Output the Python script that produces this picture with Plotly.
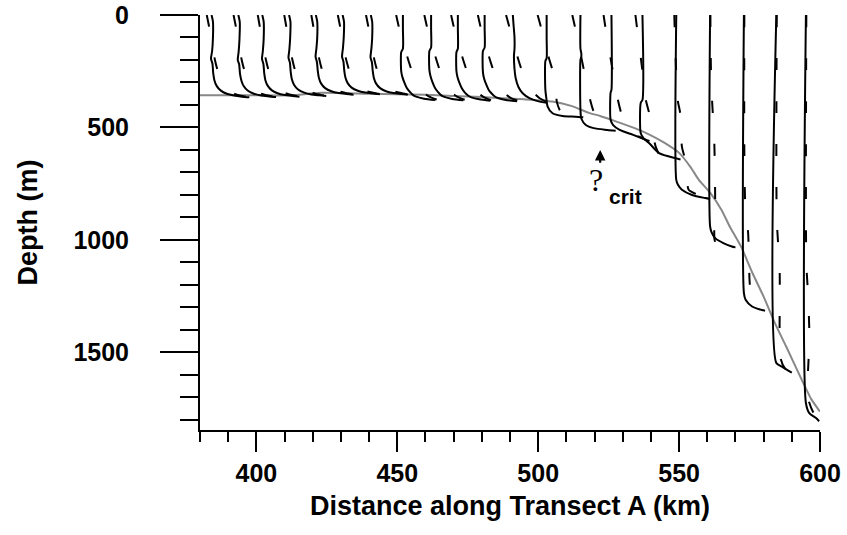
import plotly.graph_objects as go

# Station positions along the transect (km)
STATION_KM = [384.5, 394.0, 402.5, 412.0, 421.5, 431.0, 441.0, 452.0, 462.0, 471.5,
              481.0, 491.0, 503.0, 515.0, 526.0, 537.0, 549.0, 561.0, 573.0, 584.5, 595.0]

# Solid profiles: depth (m) and horizontal offset from the station (km)
SOLID_Z = [
    [0, 30, 100, 160, 195, 215, 260, 290, 315, 335, 350, 358, 363, 366],
    [0, 30, 110, 165, 200, 220, 262, 292, 316, 336, 350, 358, 362, 365],
    [0, 30, 105, 160, 195, 218, 260, 290, 314, 334, 348, 356, 360, 363],
    [0, 30, 100, 155, 190, 212, 255, 286, 311, 331, 345, 353, 357, 360],
    [0, 30, 100, 150, 185, 210, 250, 280, 305, 325, 339, 347, 351, 354],
    [0, 30, 100, 150, 185, 208, 248, 278, 303, 323, 337, 345, 349, 352],
    [0, 30, 100, 152, 188, 210, 250, 280, 305, 325, 339, 347, 351, 354],
    [0, 60, 150, 165, 250, 275, 303, 325, 341, 355, 363, 372, 378],
    [0, 60, 145, 160, 245, 272, 302, 325, 342, 356, 364, 373, 379],
    [0, 60, 150, 165, 250, 278, 306, 328, 345, 358, 366, 375, 381],
    [0, 60, 145, 160, 255, 282, 310, 332, 348, 361, 369, 378, 384],
    [0, 50, 100, 150, 180, 240, 280, 320, 348, 370, 385, 390],
    [0, 100, 192, 205, 333, 370, 407, 437, 449, 452, 455],
    [0, 150, 170, 185, 200, 420, 460, 489, 503, 511, 515],
    [0, 333, 345, 466, 490, 511, 533, 555, 560],
    [0, 378, 390, 526, 550, 570, 614, 637, 642],
    [0, 733, 755, 777, 800, 814, 818],
    [0, 940, 965, 992, 1014, 1029, 1033],
    [0, 1236, 1266, 1296, 1310, 1315],
    [0, 1547, 1562, 1584, 1590],
    [0, 1725, 1770, 1791, 1806],
]
SOLID_DX = [
    [-0.4, 0.1, 0.1, -0.2, -0.6, -0.1, 0.2, 0.6, 1.4, 2.8, 5.0, 7.6, 10.4, 13.0],
    [-0.4, 0.1, 0.0, -0.3, -0.6, -0.1, 0.2, 0.7, 1.5, 2.9, 5.1, 7.7, 10.5, 13.0],
    [-0.4, 0.1, 0.1, -0.2, -0.5, 0.0, 0.3, 0.7, 1.5, 2.9, 5.0, 7.6, 10.4, 12.8],
    [-0.4, 0.1, 0.0, -0.3, -0.6, -0.1, 0.2, 0.6, 1.4, 2.8, 5.0, 7.5, 10.3, 12.8],
    [-0.4, 0.1, 0.1, -0.2, -0.5, 0.0, 0.3, 0.7, 1.5, 2.9, 5.1, 7.7, 10.5, 13.0],
    [-0.4, 0.1, 0.0, -0.3, -0.6, -0.1, 0.2, 0.6, 1.4, 2.8, 5.0, 7.6, 10.4, 12.8],
    [-0.4, 0.1, 0.1, -0.2, -0.5, 0.0, 0.3, 0.7, 1.5, 2.9, 5.0, 7.6, 10.4, 12.8],
    [0.0, 0.0, 0.0, -0.6, -0.6, -0.2, 0.6, 1.4, 2.4, 3.5, 4.7, 7.5, 11.5],
    [0.0, 0.0, 0.0, -0.6, -0.6, -0.2, 0.6, 1.4, 2.4, 3.5, 4.7, 7.5, 11.5],
    [0.0, 0.0, 0.0, -0.5, -0.5, -0.1, 0.7, 1.5, 2.5, 3.6, 4.8, 7.6, 11.5],
    [0.0, 0.0, 0.0, -0.6, -0.6, -0.2, 0.6, 1.4, 2.4, 3.5, 4.7, 7.5, 11.5],
    [0.0, 0.3, 0.6, 0.6, 0.4, 0.6, 1.0, 2.0, 3.5, 5.9, 9.5, 12.0],
    [0.0, 0.0, 0.0, -0.45, -0.45, -0.1, 0.35, 2.1, 5.7, 10.3, 13.0],
    [0.0, 0.0, 0.3, 0.3, 0.0, 0.0, 0.3, 1.9, 4.7, 9.5, 12.5],
    [0.0, 0.0, -0.3, -0.3, 0.6, 2.9, 7.7, 12.4, 13.5],
    [0.0, 0.0, -0.6, -0.6, 0.5, 2.4, 5.9, 11.8, 13.5],
    [0.0, 0.0, 0.6, 2.0, 5.6, 10.3, 12.0],
    [0.0, 0.0, 0.5, 1.8, 4.7, 7.7, 9.0],
    [0.0, 0.0, 0.6, 2.9, 5.9, 7.5],
    [0.0, 0.0, 1.8, 4.7, 5.5],
    [0.0, 0.0, 1.2, 3.5, 4.7],
]

# Dashed profiles: depth (m) and horizontal offset from the station (km)
DASH_Z = [
    [0, 50, 100, 150, 200, 240, 280, 310, 335, 352, 361, 366],
    [0, 50, 100, 150, 200, 240, 280, 310, 335, 351, 360, 365],
    [0, 50, 100, 150, 200, 240, 280, 308, 333, 349, 358, 363],
    [0, 50, 100, 150, 200, 240, 278, 305, 330, 346, 355, 360],
    [0, 50, 100, 150, 195, 235, 272, 300, 324, 340, 349, 354],
    [0, 50, 100, 150, 195, 232, 270, 298, 322, 338, 347, 352],
    [0, 50, 100, 150, 195, 235, 272, 300, 324, 340, 349, 354],
    [0, 50, 100, 150, 200, 250, 290, 320, 345, 362, 372, 378],
    [0, 50, 100, 150, 200, 250, 290, 320, 346, 363, 373, 379],
    [0, 50, 100, 150, 200, 250, 292, 322, 348, 365, 375, 381],
    [0, 50, 100, 150, 200, 250, 295, 325, 351, 368, 378, 384],
    [0, 50, 100, 150, 200, 250, 300, 340, 370, 385, 392],
    [0, 50, 100, 150, 200, 250, 300, 350, 385, 430, 450, 458],
    [0, 50, 100, 150, 200, 250, 300, 350, 380, 430, 470, 500, 515],
    [0, 50, 100, 150, 200, 250, 300, 350, 378, 437, 490, 530, 555],
    [0, 100, 200, 300, 378, 437, 500, 585, 630, 645],
    [0, 200, 378, 437, 585, 645, 720, 777, 800, 812],
    [0, 300, 570, 830, 1000, 1025, 1040],
    [0, 600, 850, 970, 1100, 1180, 1240, 1280, 1305],
    [0, 900, 1050, 1150, 1460, 1530, 1570, 1595],
    [0, 1100, 1250, 1400, 1460, 1600, 1700, 1764, 1800],
]
DASH_DX = [
    [-2.1, -1.3, -0.6, 0.1, 0.8, 1.6, 2.6, 3.8, 5.6, 8.0, 11.0, 13.0],
    [-2.1, -1.3, -0.6, 0.1, 0.8, 1.6, 2.6, 3.8, 5.6, 8.0, 11.0, 13.0],
    [-2.0, -1.3, -0.6, 0.1, 0.9, 1.7, 2.7, 3.9, 5.7, 8.1, 11.0, 12.8],
    [-2.1, -1.4, -0.7, 0.0, 0.8, 1.6, 2.6, 3.8, 5.6, 8.0, 10.9, 12.8],
    [-2.0, -1.3, -0.6, 0.1, 0.8, 1.6, 2.6, 3.8, 5.6, 8.0, 11.0, 13.0],
    [-2.1, -1.3, -0.6, 0.1, 0.8, 1.6, 2.6, 3.8, 5.6, 8.0, 10.9, 12.8],
    [-2.1, -1.3, -0.6, 0.1, 0.8, 1.6, 2.6, 3.8, 5.6, 8.0, 11.0, 12.8],
    [-2.4, -1.5, -0.4, 0.7, 1.9, 3.2, 4.5, 5.8, 7.4, 9.2, 11.0, 12.5],
    [-2.4, -1.5, -0.4, 0.7, 1.9, 3.2, 4.5, 5.8, 7.4, 9.2, 11.0, 12.5],
    [-2.4, -1.5, -0.4, 0.7, 1.9, 3.2, 4.5, 5.8, 7.4, 9.2, 11.0, 12.5],
    [-2.4, -1.5, -0.4, 0.7, 1.9, 3.2, 4.5, 5.8, 7.4, 9.2, 11.0, 12.5],
    [-2.4, -1.3, -0.2, 0.9, 2.0, 3.3, 5.0, 7.0, 9.5, 12.0, 13.5],
    [-3.2, -2.1, -1.1, -0.1, 1.0, 2.2, 3.0, 3.4, 3.6, 5.0, 8.0, 12.0],
    [-2.9, -2.0, -1.2, -0.4, 0.5, 1.3, 2.1, 3.0, 3.5, 4.7, 6.5, 9.0, 12.0],
    [-2.8, -2.2, -1.6, -0.9, -0.2, 0.5, 1.2, 1.9, 2.3, 3.5, 5.5, 8.5, 12.0],
    [-2.5, -1.5, -0.5, 0.5, 1.2, 2.4, 3.3, 4.7, 6.5, 10.0],
    [-0.7, -0.2, 0.5, 1.4, 2.0, 3.2, 3.8, 4.4, 7.9, 10.5],
    [0.1, 0.4, 1.5, 1.8, 1.6, 2.6, 6.0],
    [0.15, 0.15, 0.5, 1.5, 1.8, 2.0, 2.4, 3.5, 6.0],
    [0.15, 0.15, 0.8, 1.2, 1.2, 1.6, 3.0, 5.5],
    [0.15, 0.15, 0.8, 1.2, 1.2, 0.7, 0.7, 2.5, 4.7],
]

# Bottom depth along the transect
BATHY_KM = [380, 400, 412, 423, 440, 460, 480, 495, 505, 512, 518, 522, 528, 534, 540,
            545, 550, 554, 557, 561, 565, 568, 572, 576, 580, 584, 588, 593, 597, 600]
BATHY_M = [357, 357, 357, 346, 350, 355, 365, 375, 385, 405, 435, 449, 475, 502, 535,
           570, 613, 675, 733, 790, 866, 941, 1030, 1146, 1252, 1370, 1474, 1608, 1710, 1763]

X_TICKS = [400, 450, 500, 550, 600]
Y_TICKS = [0, 500, 1000, 1500]

FONT = "Arial, 'Liberation Sans', sans-serif"

fig = go.Figure()

fig.add_trace(go.Scatter(x=BATHY_KM, y=BATHY_M, mode="lines",
                         line=dict(color="#888888", width=2, shape="spline", smoothing=0.6),
                         hoverinfo="skip", showlegend=False))

for x0, z, dx in zip(STATION_KM, SOLID_Z, SOLID_DX):
    fig.add_trace(go.Scatter(x=[x0 + d for d in dx], y=z, mode="lines",
                             line=dict(color="black", width=2, shape="spline", smoothing=0.7),
                             hoverinfo="skip", showlegend=False))

for x0, z, dx in zip(STATION_KM, DASH_Z, DASH_DX):
    fig.add_trace(go.Scatter(x=[x0 + d for d in dx], y=z, mode="lines",
                             line=dict(color="black", width=2, dash="12px,31px",
                                       shape="spline", smoothing=0.7),
                             hoverinfo="skip", showlegend=False))

# Critical-slope marker
fig.add_annotation(x=522, y=600, ax=522, ay=664, xref="x", yref="y", axref="x", ayref="y",
                   showarrow=True, arrowhead=2, arrowsize=0.95, arrowwidth=2.2,
                   arrowcolor="#000000", text="")
fig.add_annotation(x=520.6, y=735, xref="x", yref="y", text="?", showarrow=False,
                   font=dict(family="'Times New Roman', 'Liberation Serif', serif", size=32,
                             color="#000000", weight="normal"))
fig.add_annotation(x=531.0, y=808, xref="x", yref="y", text="crit", showarrow=False,
                   font=dict(family=FONT, size=21, color="#000000", weight="bold"))

fig.update_layout(
    width=847, height=535,
    margin=dict(l=200, r=27, t=15, b=105, autoexpand=False),
    paper_bgcolor="white", plot_bgcolor="white",
    font=dict(family=FONT, color="black", weight="bold"),
    xaxis=dict(
        range=[380, 600], showgrid=False, zeroline=False, automargin=False,
        showline=True, linecolor="black", linewidth=2,
        tickmode="array", tickvals=X_TICKS, ticks="outside", ticklen=20, tickwidth=2,
        tickcolor="black", tickfont=dict(size=25, weight="bold"),
        minor=dict(tick0=380, dtick=10, ticks="outside", ticklen=10, tickwidth=2,
                   tickcolor="black", showgrid=False),
        title=dict(text="Distance along Transect A (km)",
                   font=dict(size=27, weight="bold"), standoff=10),
    ),
    yaxis=dict(
        range=[1845, 0], showgrid=False, zeroline=False, automargin=False,
        showline=True, linecolor="black", linewidth=2,
        tickmode="array", tickvals=Y_TICKS, ticks="outside", ticklen=38, tickwidth=2,
        tickcolor="black", tickfont=dict(size=25, weight="bold"), ticklabelstandoff=26,
        minor=dict(tick0=0, dtick=100, ticks="outside", ticklen=18, tickwidth=2,
                   tickcolor="black", showgrid=False),
        title=dict(text="Depth (m)", font=dict(size=27, weight="bold"), standoff=28),
    ),
)

fig.write_html("out.html")
